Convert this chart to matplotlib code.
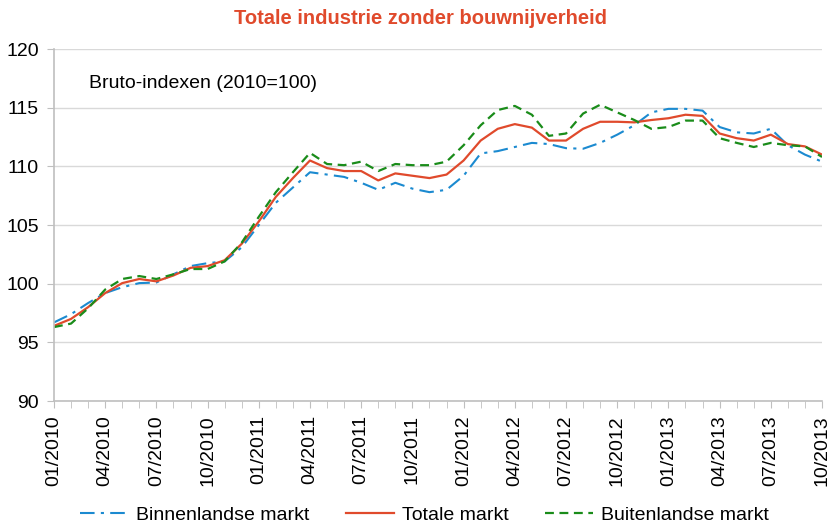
import numpy as np
import matplotlib
matplotlib.use("Agg")
import matplotlib.pyplot as plt

plt.rcParams["font.family"] = ["Liberation Sans", "DejaVu Sans"]

# maanden 01/2010 .. 10/2013
maanden = [f"{m:02d}/{j}" for j in range(2010, 2014) for m in range(1, 13)][:46]

binnenlands = [96.7, 97.4, 98.35, 99.2, 99.7, 100.05, 100.1, 100.8, 101.5, 101.75,
               101.9, 103.1, 105.0, 106.9, 108.2, 109.5, 109.3, 109.1, 108.6, 108.0,
               108.6, 108.1, 107.8, 108.0, 109.2, 111.1, 111.3, 111.65, 112.0, 111.9,
               111.55, 111.5, 112.0, 112.7, 113.5, 114.6, 114.9, 114.9, 114.75, 113.35,
               112.9, 112.8, 113.2, 111.8, 111.0, 110.4]
totaal = [96.4, 97.0, 98.0, 99.2, 100.05, 100.4, 100.2, 100.7, 101.35, 101.5,
          102.0, 103.4, 105.3, 107.4, 109.0, 110.5, 109.85, 109.6, 109.6, 108.8,
          109.4, 109.2, 109.0, 109.3, 110.5, 112.2, 113.2, 113.6, 113.3, 112.2,
          112.2, 113.2, 113.8, 113.8, 113.75, 113.95, 114.1, 114.4, 114.3, 112.8,
          112.4, 112.2, 112.7, 111.9, 111.7, 111.0]
buitenlands = [96.3, 96.6, 97.9, 99.5, 100.4, 100.65, 100.4, 100.8, 101.25, 101.25,
               101.9, 103.5, 105.7, 107.8, 109.5, 111.15, 110.2, 110.1, 110.4, 109.6,
               110.2, 110.1, 110.1, 110.4, 111.8, 113.5, 114.8, 115.15, 114.4, 112.6,
               112.8, 114.5, 115.25, 114.6, 113.95, 113.2, 113.35, 113.9, 113.9, 112.4,
               112.0, 111.65, 112.0, 111.8, 111.7, 110.8]

blauw = "#1b8ad0"
rood = "#e04a2c"
groen = "#1a8c1a"
grijs = "#bfbfbf"

fig = plt.figure(figsize=(8.29, 5.26), dpi=100)
ax = fig.add_axes([0.0651, 0.2376, 0.9916 - 0.0651, 0.9068 - 0.2376])

x = np.arange(len(maanden))
ax.plot(x, binnenlands, color=blauw, lw=1.5, ls=(0, (7, 3, 1.5, 3)),
        label="Binnenlandse markt")
ax.plot(x, totaal, color=rood, lw=1.6, label="Totale markt")
ax.plot(x, buitenlands, color=groen, lw=1.6, ls=(0, (4, 2.5)),
        label="Buitenlandse markt")

ax.set_xlim(0, len(maanden) - 1)
ax.set_ylim(90, 120)
ax.set_yticks(np.arange(90, 121, 5))
ax.set_xticks(x[::3])
ax.set_xticklabels(maanden[::3], rotation=90, fontsize=14)
ax.set_xticks(x, minor=True)
ax.tick_params(axis="y", labelsize=14, length=5, color=grijs, pad=6)
ax.tick_params(axis="x", which="both", length=5, color=grijs, pad=5)

ax.grid(axis="y", color="#d9d9d9", lw=1)
ax.set_axisbelow(True)
for s in ["top", "right"]:
    ax.spines[s].set_visible(False)
for s in ["left", "bottom"]:
    ax.spines[s].set_color(grijs)
    ax.spines[s].set_linewidth(1.2)

ax.text(0.046, 0.903, "Bruto-indexen (2010=100)", transform=ax.transAxes,
        fontsize=14, va="center", ha="left")

fig.text(0.507, 0.964, "Totale industrie zonder bouwnijverheid", color=rood,
         fontsize=14.5, fontweight="bold", ha="center", va="center")

fig.legend(loc="center", bbox_to_anchor=(0.512, 0.021), ncol=3, frameon=False,
           fontsize=14, handlelength=2.5, columnspacing=1.85, handletextpad=0.4)

fig.savefig("out.png", dpi=100)
